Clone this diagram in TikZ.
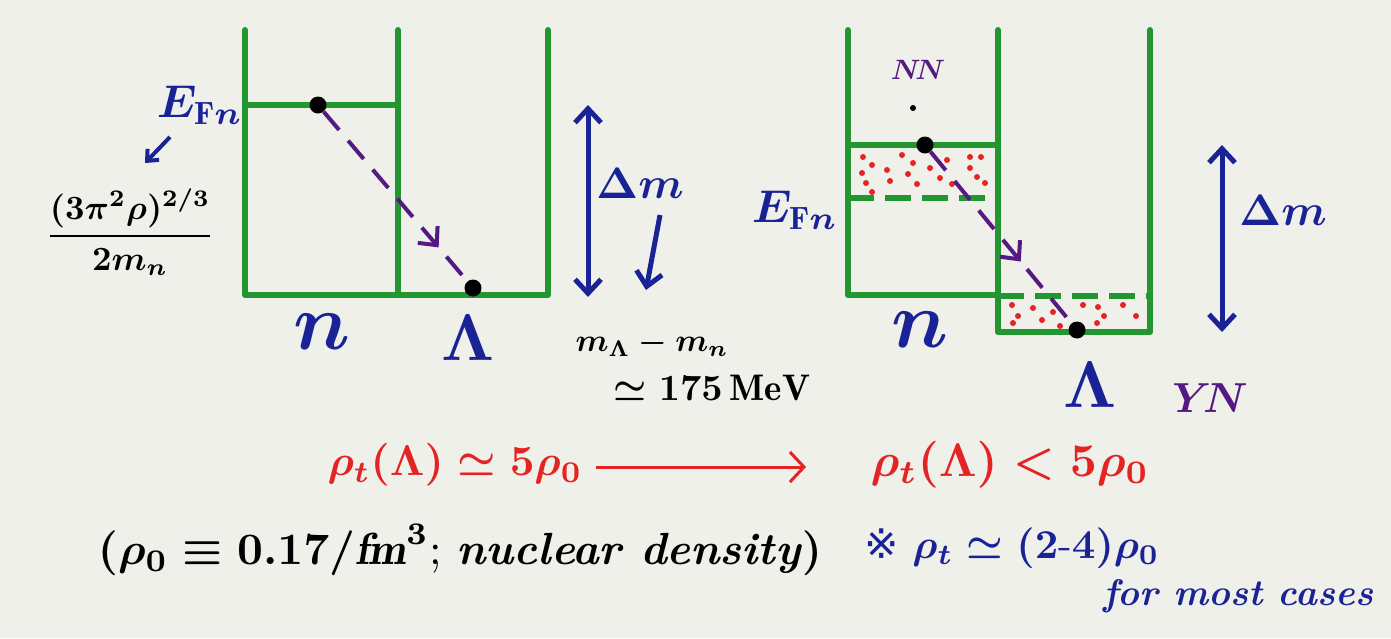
\documentclass[tikz,border=0pt]{standalone}
\usepackage{amsmath}
\usepackage{fontspec}
\usepackage{tikz}
\usetikzlibrary{arrows.meta,decorations.markings}
\newfontfamily\marksym{DejaVu Sans}
\definecolor{paper}{RGB}{240,240,235}
\definecolor{wellgreen}{RGB}{35,150,50}
\definecolor{inkblue}{RGB}{25,35,150}
\definecolor{inkpurple}{RGB}{85,25,130}
\definecolor{inkred}{RGB}{228,35,35}
\def\WellTop{30}
\def\Barb{Straight Barb[length=14pt,width=26pt]}

\begin{document}
\begin{tikzpicture}[x=1pt, y=-1pt, line join=round,
  well/.style={draw=wellgreen, line width=6pt, line cap=round},
  fermi/.style={well, line cap=butt, dash pattern=on 26pt off 11pt},
  ptcl/.style={circle, fill=black, inner sep=0pt, minimum size=17pt},
  hop/.style={inkpurple, line width=4pt, dash pattern=on 24pt off 14pt,
    postaction={decorate}, decoration={markings,
      mark=at position #1 with {\arrow[line width=4pt]{\Barb}}}},
  gap/.style={inkblue, line width=5pt, {\Barb}-{\Barb}},
  hand/.style={font=\boldmath, scale=#1/10, inner sep=0pt}]

  \useasboundingbox[fill=paper] (0,0) rectangle (1391,638);

  % left: n and Lambda wells
  \draw[well] (245,\WellTop) -- (245,295) -- (548,295) -- (548,\WellTop);
  \draw[well] (398,\WellTop) -- (398,295);
  \draw[well] (245,105) -- (398,105);
  \node[ptcl] (nL) at (318,105) {};
  \node[ptcl] (lamL) at (473,288) {};
  \draw[hop=0.8] (nL) -- (lamL);

  \node[hand=46, inkblue] (efnL) at (200,105) {$E_{\mathrm{F}n}$};
  \coordinate (efnTail) at (170,137);
  \coordinate (efnHead) at (145,163);
  \draw[inkblue, line width=4pt, -{Straight Barb[length=9pt,width=16pt]}] (efnTail) -- (efnHead);
  \node[hand=34] (fermiE) at (130,232) {$\dfrac{(3\pi^2\rho)^{2/3}}{2m_n}$};

  \node[hand=80, inkblue] (nlabL) at (322,332) {$n$};
  \node[hand=66, inkblue] (lamlabL) at (468,338) {$\Lambda$};

  \coordinate (gapLt) at (588,105);
  \coordinate (gapLb) at (588,297);
  \draw[gap] (gapLt) -- (gapLb);
  \node[hand=44, inkblue] (dmL) at (640,183) {$\Delta m$};
  \coordinate (dmTail) at (660,215);
  \coordinate (dmHead) at (646,290);
  \draw[inkblue, line width=5pt, -{\Barb}] (dmTail) -- (dmHead);
  \node[hand=32] (mdiff) at (652,344) {$m_\Lambda - m_n$};
  \node[hand=37] (mval) at (712,388) {$\simeq 175\,\mathrm{MeV}$};

  % right: after hyperons appear
  \draw[well] (848,\WellTop) -- (848,295) -- (998,295);
  \draw[well] (998,\WellTop) -- (998,332) -- (1150,332) -- (1150,\WellTop);
  \draw[well] (848,145) -- (998,145);
  \draw[fermi] (848,198) -- (998,198);
  \draw[fermi] (998,296) -- (1150,296);
  \foreach \p in {(863,157),(872,165),(862,173),(866,183),(887,170),(890,181),
      (902,155),(913,163),(908,174),(917,184),(930,168),(940,178),(947,160),
      (952,184),(970,157),(981,157),(970,168),(977,177),(985,183),(872,192)}
    \fill[inkred] \p circle (3pt);
  \foreach \p in {(1012,305),(1018,316),(1033,308),(1042,320),(1053,312),
      (1083,305),(1098,307),(1104,316),(1097,323),(1123,305),(1136,316),
      (1013,323),(1060,326)}
    \fill[inkred] \p circle (3pt);
  \node[ptcl] (nR) at (925,145) {};
  \node[ptcl] (lamR) at (1077,330) {};
  \draw[hop=0.64] (nR) -- (lamR);

  \node[hand=28, inkpurple] (nnlab) at (918,70) {$N\!N$};
  \fill (913,108) circle (3pt);
  \node[hand=46, inkblue] (efnR) at (795,210) {$E_{\mathrm{F}n}$};
  \node[hand=80, inkblue] (nlabR) at (920,330) {$n$};
  \node[hand=66, inkblue] (lamlabR) at (1090,385) {$\Lambda$};
  \node[hand=42, inkpurple] (ynlab) at (1210,398) {$Y\!N$};

  \coordinate (gapRt) at (1222,145);
  \coordinate (gapRb) at (1222,332);
  \draw[gap] (gapRt) -- (gapRb);
  \node[hand=44, inkblue] (dmR) at (1283,210) {$\Delta m$};

  % densities
  \node[hand=43, inkred] (rhoL) at (455,465) {$\rho_t(\Lambda)\simeq 5\rho_0$};
  \coordinate (flowA) at (596,467);
  \coordinate (flowB) at (806,467);
  \draw[inkred, line width=3pt, -{Straight Barb[length=14pt,width=30pt]}] (flowA) -- (flowB);
  \node[hand=47, inkred] (rhoR) at (1010,465) {$\rho_t(\Lambda) < 5\rho_0$};
  \node[hand=45] (rho0) at (460,550)
    {$(\rho_0\equiv 0.17/\mathit{fm}^3$; \textit{\bfseries nuclear density}$)$};
  \node[hand=41, inkblue] (rhot) at (1012,548)
    {{\marksym ※} $\rho_t\simeq(2\text{-}4)\rho_0$};
  \node[hand=37, inkblue] (most) at (1238,596) {\textit{\bfseries for most cases}};
\end{tikzpicture}
\end{document}
